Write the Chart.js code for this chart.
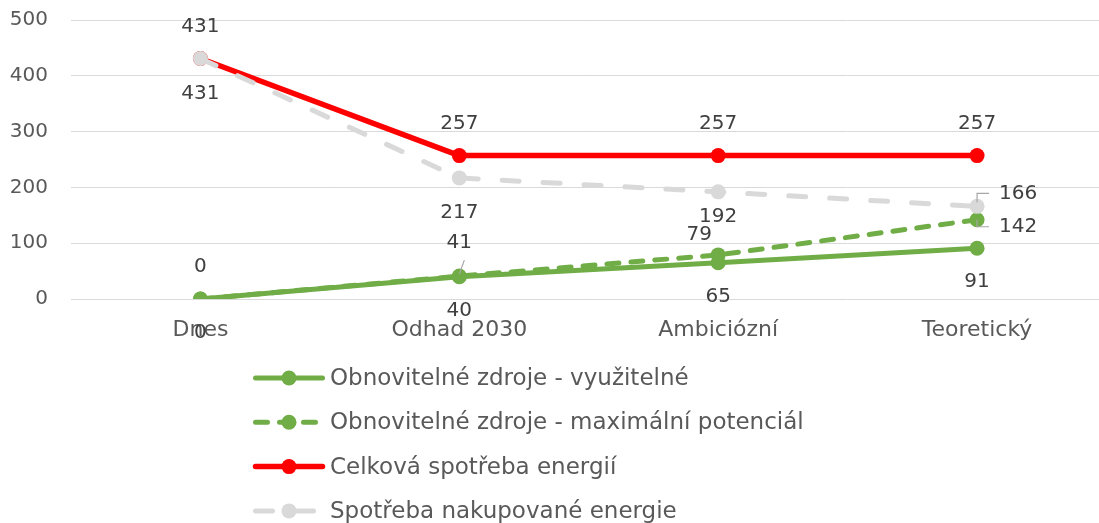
<!DOCTYPE html>
<html><head><meta charset="utf-8">
<script src="https://cdn.jsdelivr.net/npm/chart.js@4"></script>
<style>
html,body{margin:0;padding:0;overflow:hidden;background:#fff}
#wrap{width:1114px;height:523px;position:relative}
canvas{display:block}
</style>
</head><body>
<div id="wrap"><canvas id="c" width="1114" height="523"></canvas></div>
<script>
// ---- data ----
const categories = ['Dnes', 'Odhad 2030', 'Ambiciózní', 'Teoretický'];
const seriesNames = [
  'Obnovitelné zdroje - využitelné',
  'Obnovitelné zdroje - maximální potenciál',
  'Celková spotřeba energií',
  'Spotřeba nakupované energie'
];
const renewableUsable = [0, 40, 65, 91];
const renewableMax = [0, 41, 79, 142];
const totalConsumption = [431, 257, 257, 257];
const purchasedConsumption = [431, 217, 192, 166];
const yTicks = [0, 100, 200, 300, 400, 500];

// ---- styles ----
const FONT = '"DejaVu Sans", sans-serif';
const GREEN = '#70ad47', RED = '#ff0000', GRAY = '#d9d9d9';

// label placement (style, not data)
const labelCfg = [
  { dy: 34 },
  { dy: -32, overrides: { 1: { dy: -33, leader: 'slant' }, 2: { dx: -19, dy: -20 }, 3: { dx: 41, dy: 7, leader: 'bracket', leaderEnd: 0 } } },
  { dy: -32 },
  { dy: 35, overrides: { 2: { dy: 25 }, 3: { dx: 41, dy: -13, leader: 'bracket', leaderEnd: -4 } } }
];

const dataLabelPlugin = {
  id: 'dataLabels',
  afterDatasetsDraw(chart) {
    const ctx = chart.ctx;
    ctx.save();
    ctx.font = '20px ' + FONT;
    ctx.textAlign = 'center';
    ctx.textBaseline = 'middle';
    chart.data.datasets.forEach((ds, di) => {
      const meta = chart.getDatasetMeta(di);
      const cfg = labelCfg[di];
      meta.data.forEach((pt, i) => {
        const o = Object.assign({ dx: 0, dy: cfg.dy }, (cfg.overrides || {})[i] || {});
        const x = pt.x + o.dx, y = pt.y + o.dy;
        ctx.strokeStyle = '#a6a6a6';
        ctx.lineWidth = 1.2;
        if (o.leader === 'bracket') {
          ctx.beginPath();
          ctx.moveTo(x - 29, y);
          ctx.lineTo(pt.x, y);
          ctx.lineTo(pt.x, pt.y + o.leaderEnd);
          ctx.stroke();
        } else if (o.leader === 'slant') {
          ctx.beginPath();
          ctx.moveTo(pt.x, pt.y - 2);
          ctx.lineTo(pt.x + 5, y + 17);
          ctx.stroke();
        }
        ctx.fillStyle = '#404040';
        ctx.fillText(String(ds.data[i]), x, y);
      });
    });
    ctx.restore();
  }
};

const legendPlugin = {
  id: 'vLegend',
  afterDraw(chart, args, opts) {
    const ctx = chart.ctx;
    ctx.save();
    chart.data.datasets.forEach((ds, i) => {
      const y = opts.top + i * opts.spacing;
      const x0 = opts.left, x1 = opts.left + opts.sample;
      ctx.strokeStyle = ds.borderColor;
      ctx.lineWidth = ds.borderWidth;
      ctx.lineCap = 'round';
      ctx.setLineDash(ds.borderDash || []);
      ctx.beginPath();
      ctx.moveTo(x0 + 2.5, y);
      ctx.lineTo(x1 - 2.5, y);
      ctx.stroke();
      ctx.setLineDash([]);
      ctx.fillStyle = ds.pointBackgroundColor;
      ctx.beginPath();
      ctx.arc((x0 + x1) / 2, y, ds.pointRadius, 0, Math.PI * 2);
      ctx.fill();
      ctx.fillStyle = '#595959';
      ctx.font = '23px ' + FONT;
      ctx.textAlign = 'left';
      ctx.textBaseline = 'middle';
      ctx.fillText(ds.label, x1 + 5, y + 1);
    });
    ctx.restore();
  }
};

function line(label, data, color, dash, width, order) {
  return {
    label, data,
    borderColor: color, backgroundColor: color,
    borderWidth: width, borderDash: dash, borderCapStyle: 'round', borderJoinStyle: 'round',
    pointRadius: 7.5, pointBackgroundColor: color, pointBorderColor: color, pointBorderWidth: 0,
    pointHoverRadius: 7.5, tension: 0, fill: false, order
  };
}

new Chart(document.getElementById('c'), {
  type: 'line',
  data: {
    labels: categories,
    datasets: [
      line(seriesNames[0], renewableUsable, GREEN, [], 5, 3),
      line(seriesNames[1], renewableMax, GREEN, [12, 12], 5, 2),
      line(seriesNames[2], totalConsumption, RED, [], 5.5, 1),
      line(seriesNames[3], purchasedConsumption, GRAY, [17, 24], 5, 0)
    ]
  },
  options: {
    responsive: false,
    maintainAspectRatio: false,
    devicePixelRatio: 1,
    animation: false,
    layout: { padding: { top: 20, left: 0, right: 0, bottom: 0 } },
    plugins: {
      legend: { display: false },
      tooltip: { enabled: false },
      vLegend: { left: 253, sample: 72, top: 378, spacing: 44.3 }
    },
    scales: {
      x: {
        offset: true,
        grid: { display: false, drawTicks: false },
        border: { display: false },
        ticks: { font: { family: FONT, size: 22 }, color: '#595959', padding: 18, maxRotation: 0 },
        afterFit(s) { s.height = 224; s.paddingLeft = 0; s.paddingRight = 0; s.paddingTop = 0; s.paddingBottom = 0; }
      },
      y: {
        min: 0, max: 500,
        afterBuildTicks(s) { s.ticks = yTicks.map(v => ({ value: v })); },
        ticks: { font: { family: FONT, size: 20 }, color: '#595959', padding: 23 },
        grid: { color: GRAY, lineWidth: 1, drawTicks: false },
        border: { display: false },
        afterFit(s) { s.width = 71; s.paddingTop = 0; s.paddingBottom = 0; s.paddingLeft = 0; s.paddingRight = 0; }
      }
    }
  },
  plugins: [dataLabelPlugin, legendPlugin]
});
</script>
</body></html>
